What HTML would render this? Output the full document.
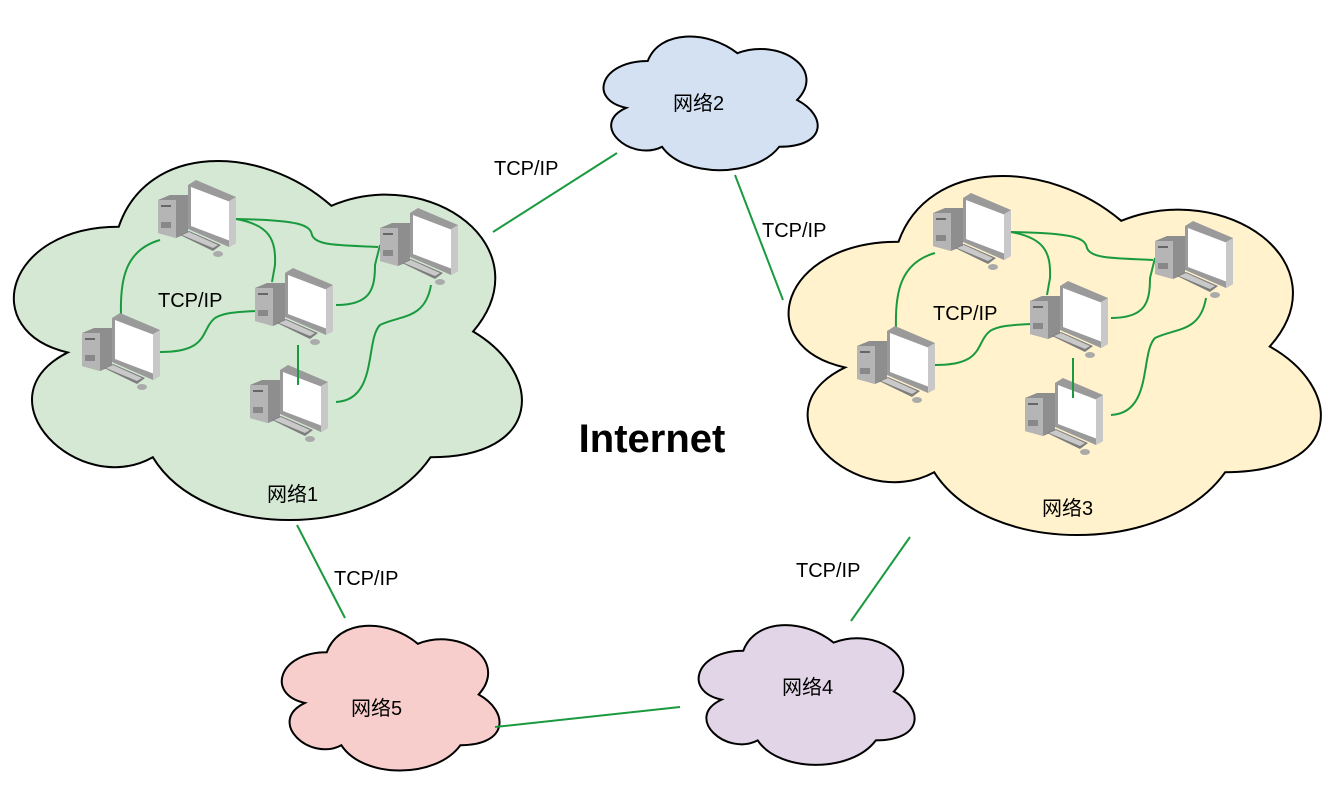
<!DOCTYPE html>
<html><head><meta charset="utf-8"><style>
body{margin:0;background:#fff;}
svg{display:block;background:#fff}
text{font-family:"Liberation Sans","Noto Sans CJK SC",sans-serif;}
</style></head><body>
<svg width="1340" height="804" viewBox="0 0 1340 804" xmlns="http://www.w3.org/2000/svg">
<defs>
<g id="pc" stroke="none">
  <polygon points="0,20 12,15 30,15 30,53 18,58 0,53" fill="#8e8e8e"/>
  <polygon points="0,20 18,20 18,58 0,53" fill="#b5b5b5"/>
  <rect x="3" y="25" width="10" height="2" fill="#666"/>
  <rect x="3" y="42" width="10" height="6" fill="#888"/>
  <polygon points="30,5 38,0 78,17 78,63 71,67 30,49" fill="#9a9a9a"/>
  <polygon points="33,7 75,23 75,62 33,46" fill="#fff"/>
  <polygon points="71,21 78,17 78,63 71,67" fill="#c8c8c8"/>
  <polygon points="22,55 31,51 63,65 55,71" fill="#7d7d7d"/>
  <polygon points="24,55 31,52 60,65 55,68" fill="#c9c9c9"/>
  <ellipse cx="60" cy="74" rx="5" ry="3" fill="#aaa"/>
</g>
<g id="lan">
  <g fill="none" stroke="#1a9a3e" stroke-width="2">
  <path d="M236,219 C300,220 310,225 312,235 C316,246 340,245 378,247"/>
  <path d="M236,219 C270,225 276,240 275,265 L272,282"/>
  <path d="M160,240 C125,250 120,280 121,315"/>
  <path d="M160,352 C210,352 200,330 215,318 C225,312 240,312 255,311"/>
  <path d="M336,305 C370,305 375,290 375,265 L380,245"/>
  <path d="M431,285 C425,320 400,315 380,325 C365,340 378,400 336,402"/>
  </g>
  <use href="#pc" x="158" y="180"/>
  <use href="#pc" x="380" y="208"/>
  <use href="#pc" x="255" y="268"/>
  <use href="#pc" x="82" y="313"/>
  <use href="#pc" x="250" y="365"/>
  <path d="M298,345 L298,385" stroke="#1a9a3e" stroke-width="2"/>
  <text x="158" y="307" font-size="20" fill="#000">TCP/IP</text>
</g>
</defs>
<g stroke="#000" stroke-width="2">
<path transform="translate(-23,122) scale(567,419)" vector-effect="non-scaling-stroke" d="M .25 .25 C .05 .25 0 .5 .16 .55 C 0 .66 .18 .9 .31 .8 C .4 1 .7 1 .8 .8 C 1 .8 1 .6 .875 .5 C 1 .3 .8 .1 .625 .2 C .5 .05 .3 .05 .25 .25 Z" fill="#d5e8d4"/>
<path transform="translate(750,137) scale(594,419)" vector-effect="non-scaling-stroke" d="M .25 .25 C .05 .25 0 .5 .16 .55 C 0 .66 .18 .9 .31 .8 C .4 1 .7 1 .8 .8 C 1 .8 1 .6 .875 .5 C 1 .3 .8 .1 .625 .2 C .5 .05 .3 .05 .25 .25 Z" fill="#fff2cc"/>
<path transform="translate(588,22) scale(239,156)" vector-effect="non-scaling-stroke" d="M .25 .25 C .05 .25 0 .5 .16 .55 C 0 .66 .18 .9 .31 .8 C .4 1 .7 1 .8 .8 C 1 .8 1 .6 .875 .5 C 1 .3 .8 .1 .625 .2 C .5 .05 .3 .05 .25 .25 Z" fill="#d4e1f3"/>
<path transform="translate(266,610) scale(243,169)" vector-effect="non-scaling-stroke" d="M .25 .25 C .05 .25 0 .5 .16 .55 C 0 .66 .18 .9 .31 .8 C .4 1 .7 1 .8 .8 C 1 .8 1 .6 .875 .5 C 1 .3 .8 .1 .625 .2 C .5 .05 .3 .05 .25 .25 Z" fill="#f8cecc"/>
<path transform="translate(683,610) scale(241,163)" vector-effect="non-scaling-stroke" d="M .25 .25 C .05 .25 0 .5 .16 .55 C 0 .66 .18 .9 .31 .8 C .4 1 .7 1 .8 .8 C 1 .8 1 .6 .875 .5 C 1 .3 .8 .1 .625 .2 C .5 .05 .3 .05 .25 .25 Z" fill="#e1d5e7"/>
</g>
<use href="#lan"/>
<use href="#lan" transform="translate(775,13)"/>
<g stroke="#1a9a3e" stroke-width="2">
<line x1="493" y1="232" x2="617" y2="153"/>
<line x1="735" y1="175" x2="783" y2="300"/>
<line x1="297" y1="525" x2="345" y2="618"/>
<line x1="910" y1="537" x2="851" y2="621"/>
<line x1="495" y1="727" x2="680" y2="707"/>
</g>
<g font-size="20" fill="#000">
<text x="494" y="175">TCP/IP</text>
<text x="762" y="237">TCP/IP</text>
<text x="334" y="585">TCP/IP</text>
<text x="796" y="577">TCP/IP</text>
<text x="673" y="110">网络2</text>
<text x="267" y="501">网络1</text>
<text x="1042" y="515">网络3</text>
<text x="351" y="715">网络5</text>
<text x="782" y="694">网络4</text>
<text x="652" y="452" font-size="40" font-weight="bold" text-anchor="middle">Internet</text>
</g>
</svg>
</body></html>
